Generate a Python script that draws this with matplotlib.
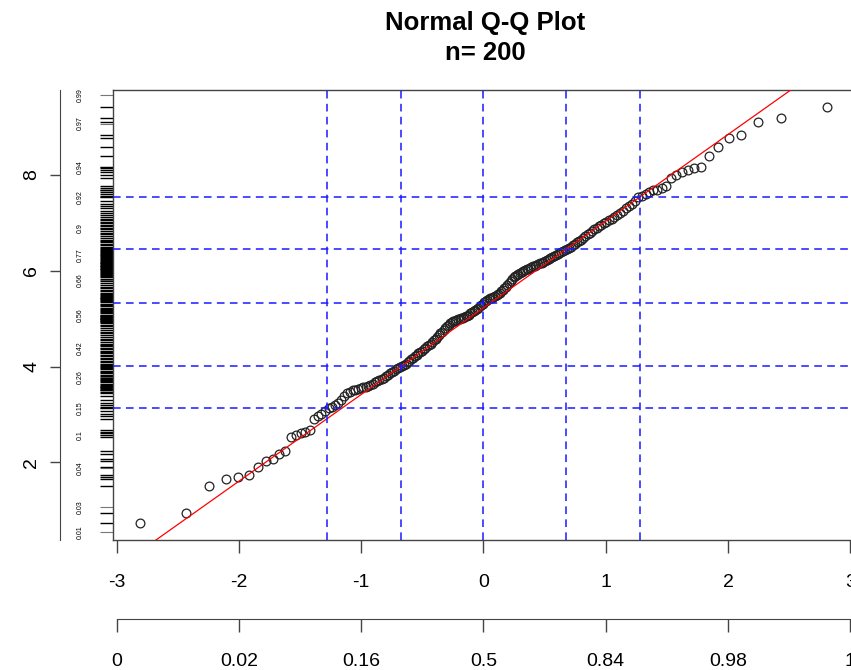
import numpy as np
import matplotlib
matplotlib.use('Agg')
import matplotlib.pyplot as plt
from statistics import NormalDist

# sorted sample values (n = 200)
values = [
    0.73, 0.94, 1.50, 1.65, 1.69, 1.73, 1.90, 2.02, 2.06, 2.17,
    2.23, 2.52, 2.58, 2.61, 2.63, 2.67, 2.90, 2.96, 3.00, 3.08,
    3.13, 3.16, 3.19, 3.24, 3.30, 3.38, 3.44, 3.47, 3.50, 3.52,
    3.54, 3.55, 3.57, 3.58, 3.60, 3.62, 3.64, 3.67, 3.69, 3.72,
    3.74, 3.77, 3.80, 3.83, 3.86, 3.88, 3.91, 3.94, 3.96, 3.99,
    4.01, 4.03, 4.06, 4.09, 4.12, 4.15, 4.18, 4.21, 4.25, 4.28,
    4.30, 4.33, 4.36, 4.39, 4.42, 4.45, 4.48, 4.51, 4.55, 4.58,
    4.62, 4.66, 4.69, 4.72, 4.76, 4.80, 4.84, 4.87, 4.90, 4.93,
    4.95, 4.96, 4.97, 4.99, 5.00, 5.01, 5.02, 5.03, 5.05, 5.06,
    5.08, 5.11, 5.13, 5.15, 5.18, 5.20, 5.23, 5.26, 5.28, 5.31,
    5.35, 5.37, 5.38, 5.40, 5.42, 5.44, 5.46, 5.48, 5.50, 5.52,
    5.54, 5.57, 5.60, 5.63, 5.66, 5.70, 5.74, 5.78, 5.82, 5.86,
    5.89, 5.91, 5.93, 5.96, 5.98, 6.00, 6.01, 6.03, 6.04, 6.06,
    6.07, 6.09, 6.10, 6.12, 6.14, 6.15, 6.17, 6.18, 6.20, 6.22,
    6.24, 6.26, 6.28, 6.30, 6.33, 6.35, 6.37, 6.40, 6.42, 6.44,
    6.46, 6.48, 6.50, 6.53, 6.56, 6.59, 6.62, 6.65, 6.69, 6.72,
    6.76, 6.79, 6.83, 6.87, 6.90, 6.93, 6.96, 6.99, 7.02, 7.05,
    7.08, 7.12, 7.16, 7.20, 7.25, 7.30, 7.35, 7.40, 7.45, 7.54,
    7.56, 7.60, 7.64, 7.69, 7.69, 7.73, 7.77, 7.94, 8.00, 8.06,
    8.10, 8.15, 8.17, 8.40, 8.59, 8.77, 8.84, 9.11, 9.19, 9.42,
]

grid_probs = [0.1, 0.25, 0.5, 0.75, 0.9]
x_ticks = [-3, -2, -1, 0, 1, 2, 3]
x_prob_labels = ['0', '0.02', '0.16', '0.5', '0.84', '0.98', '1']
y_ticks = [2, 4, 6, 8]
y_prob_pos = [0.54, 1.06, 1.88, 2.57, 3.13, 3.78, 4.38, 5.07,
              5.81, 6.33, 6.89, 7.54, 8.17, 9.07, 9.67]
y_prob_labels = ['0.01', '0.03', '0.04', '0.1', '0.15', '0.26', '0.42', '0.56',
                 '0.66', '0.77', '0.9', '0.92', '0.94', '0.97', '0.99']

plt.rcParams['font.family'] = ['Liberation Sans', 'DejaVu Sans']

W, H = 851, 670
y = np.sort(np.array(values))
n = len(y)
nd = NormalDist()
theo = np.array([nd.inv_cdf((i - 0.5) / n) for i in range(1, n + 1)])

# qqline through the quartiles
q1, q3 = np.quantile(y, [0.25, 0.75])
z1, z3 = nd.inv_cdf(0.25), nd.inv_cdf(0.75)
slope = (q3 - q1) / (z3 - z1)
icpt = q1 - slope * z1

xlim = (-3.03, 3.03)
ylim = (0.38, 9.77)
axcol = '#444444'

fig = plt.figure(figsize=(W / 100, H / 100), dpi=100)

ax = fig.add_axes([113 / W, 1 - 540 / H, (854 - 113) / W, 450 / H])
ax.set_xlim(xlim)
ax.set_ylim(ylim)
for s in ax.spines.values():
    s.set_color(axcol)
    s.set_linewidth(1.0)

ax.plot(theo, y, 'o', mfc='none', mec='#222222', ms=6.3, mew=0.9, zorder=2)
ax.axline((0, icpt), slope=slope, color='red', lw=0.9, zorder=3)
for p in grid_probs:
    ax.axvline(nd.inv_cdf(p), color='#1a1aff', lw=1.1, dashes=(5, 3.5), zorder=4)
    ax.axhline(np.quantile(y, p), color='#1a1aff', lw=1.1, dashes=(5, 3.5), zorder=4)

ax.set_xticks(x_ticks)
ax.set_xticklabels([str(t) for t in x_ticks])
ax.tick_params(axis='x', length=9.4, width=1, color=axcol, pad=15, labelsize=14)

ax.set_yticks(y_prob_pos)
ax.set_yticklabels(y_prob_labels, rotation=90, va='center')
ax.tick_params(axis='y', length=9.4, width=0.8, color='#777777', pad=12, labelsize=5)

# rug of the data on the left side
ax.hlines(y, -0.0175, 0, transform=ax.get_yaxis_transform(), clip_on=False,
          color='black', lw=1.0)

# value axis on the far left
ay = fig.add_axes([60 / W, 1 - 540 / H, 0.0001, 450 / H])
ay.set_ylim(ylim)
for k in ['top', 'right', 'bottom']:
    ay.spines[k].set_visible(False)
ay.spines['left'].set_color(axcol)
ay.set_xticks([])
ay.set_yticks(y_ticks)
ay.set_yticklabels([str(t) for t in y_ticks], rotation=90, va='center')
ay.tick_params(axis='y', length=7.2, width=1, color=axcol, pad=7, labelsize=14)

# probability axis below
ab = fig.add_axes([113 / W, 1 - 619 / H, (854 - 113) / W, 0.0001])
ab.set_xlim(xlim)
for k in ['top', 'right', 'left']:
    ab.spines[k].set_visible(False)
ab.spines['bottom'].set_color(axcol)
ab.spines['bottom'].set_bounds(-3, 3)
ab.set_yticks([])
ab.set_xticks(x_ticks)
ab.set_xticklabels(x_prob_labels)
ab.tick_params(axis='x', length=9.4, width=1, color=axcol, pad=15, labelsize=14)

fig.text(485 / W, 1 - 23 / H, 'Normal Q-Q Plot', ha='center', va='center',
         fontsize=18.5, fontweight='bold')
fig.text(485 / W, 1 - 53 / H, 'n= 200', ha='center', va='center',
         fontsize=18.5, fontweight='bold')

fig.savefig('out.png', dpi=100)
